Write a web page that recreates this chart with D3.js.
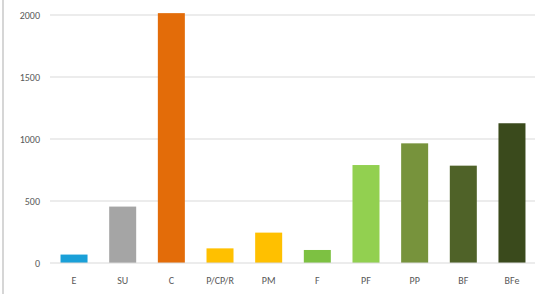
<!DOCTYPE html>
<html><head><meta charset="utf-8">
<script src="https://cdn.jsdelivr.net/npm/d3@7"></script>
<style>body{margin:0;background:#fff;}svg{display:block;font-family:Calibri,"Liberation Sans",Arial,sans-serif;}</style>
</head><body>
<svg id="c" width="540" height="294"></svg>
<script>
const categories = ["E","SU","C","P/CP/R","PM","F","PF","PP","BF","BFe"];
const values = [68, 455, 2015, 118, 245, 105, 790, 965, 785, 1127];
const colors = ["#1aa0d8","#a5a5a5","#e36c09","#ffc000","#ffc000","#7dc142","#92d050","#77933c","#4f6228","#3a4a1c"];
const yTicks = [0, 500, 1000, 1500, 2000];

const svg = d3.select("#c");
const x = d3.scaleBand().domain(categories).range([49.7, 536.3]).paddingInner(0.445).paddingOuter(0.2225);
const y = d3.scaleLinear().domain([0, 2000]).range([263, 15]);

// left border
svg.append("line").attr("x1",3).attr("x2",3).attr("y1",0).attr("y2",294).attr("stroke","#c8c8c8").attr("stroke-width",1.5);

// gridlines
svg.append("g").selectAll("line").data(yTicks.filter(d=>d>0)).join("line")
  .attr("x1",50).attr("x2",535).attr("y1",d=>y(d)).attr("y2",d=>y(d))
  .attr("stroke","#d9d9d9").attr("stroke-width",1);

// y labels
svg.append("g").selectAll("text").data(yTicks).join("text")
  .attr("x",40).attr("y",d=>y(d)+3.5).attr("text-anchor","end")
  .attr("font-size",10).attr("fill","#595959").text(d=>d);

// bars
svg.append("g").selectAll("rect").data(categories).join("rect")
  .attr("x",d=>x(d)).attr("width",x.bandwidth())
  .attr("y",(d,i)=>y(values[i])).attr("height",(d,i)=>y(0)-y(values[i]))
  .attr("fill",(d,i)=>colors[i]);

// baseline
svg.append("line").attr("x1",50).attr("x2",535).attr("y1",y(0)).attr("y2",y(0)).attr("stroke","#d9d9d9");

// x labels
svg.append("g").selectAll("text").data(categories).join("text")
  .attr("x",d=>x(d)+x.bandwidth()/2).attr("y",284).attr("text-anchor","middle")
  .attr("font-size",10).attr("fill","#595959").text(d=>d);
</script>
</body></html>
